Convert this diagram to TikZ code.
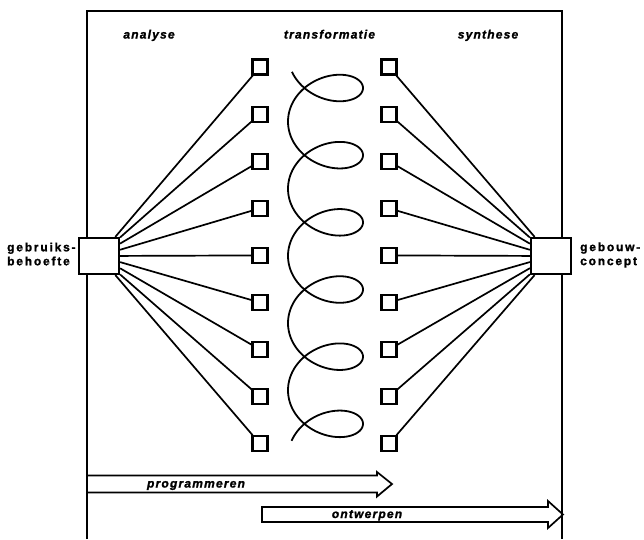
\documentclass[tikz,border=0pt]{standalone}
\usepackage{fontspec}
\newfontfamily\phasefont[LetterSpace=10, BoldItalicFeatures={FakeBold=1.5}]{Liberation Sans}
\newfontfamily\endfont[LetterSpace=15, BoldFeatures={FakeBold=1.5}]{Liberation Sans}
\tikzset{
  frameline/.style={line width=1.7pt},
  phase/.style={font=\phasefont\fontsize{12}{14}\selectfont\bfseries\itshape, inner sep=0pt, anchor=base},
  endlabel/.style={font=\endfont\fontsize{12}{14}\selectfont\bfseries, inner sep=0pt, align=left, anchor=west},
  bigbox/.style={draw, fill=white, line width=2.2pt, minimum width=40pt, minimum height=36pt, inner sep=0pt},
  smallbox/.style={draw, fill=white, line width=2.2pt, minimum size=15pt, inner sep=0pt},
  link/.style={line width=1.7pt},
  coil/.style={line width=1.8pt},
  flow/.style={line width=1.7pt, line join=miter},
}
\begin{document}
\begin{tikzpicture}[x=1pt,y=-1pt]
\useasboundingbox (0,0) rectangle (644,539);

% open frame
\draw[frameline] (87,539) -- (87,11) -- (562,11) -- (562,539);

% column headings
\node[phase] (analyse) at (149,38.5) {analyse};
\node[phase] (transformatie) at (329.5,38.5) {transformatie};
\node[phase] (synthese) at (488,38.5) {synthese};

% end points
\node[bigbox] (need) at (99,256) {};
\node[bigbox] (concept) at (551,256) {};
\node[endlabel] (needlbl) at (7,254) {gebruiks-\\behoefte};
\node[endlabel] (conceptlbl) at (580,255) {gebouw-\\concept};

% analysis and synthesis elements
\foreach \i in {1,...,9} {
  \pgfmathsetmacro{\yy}{67+47.1*(\i-1)}
  \node[smallbox] (a\i) at (260,\yy) {};
  \node[smallbox] (s\i) at (389,\yy) {};
  \draw[link] (need) -- (a\i);
  \draw[link] (s\i) -- (concept);
}

% transformation coil
\draw[coil] plot[domain=-2.68:34.12, samples=600, variable=\t]
  ({325.5+37.5*cos(\t r)}, {88+10.69*\t-28*sin(\t r)});

% process arrows
\draw[flow] (87,475.5) -- (377,475.5) -- (377,472) -- (392,484) -- (377,496.5) -- (377,492.5) -- (87,492.5);
\node[phase] (prog) at (196,487.5) {programmeren};
\draw[flow] (262,507) -- (548,507) -- (548,501) -- (563,514.5) -- (548,528) -- (548,522) -- (262,522) -- cycle;
\node[phase] (ontw) at (367,518) {ontwerpen};
\end{tikzpicture}
\end{document}
